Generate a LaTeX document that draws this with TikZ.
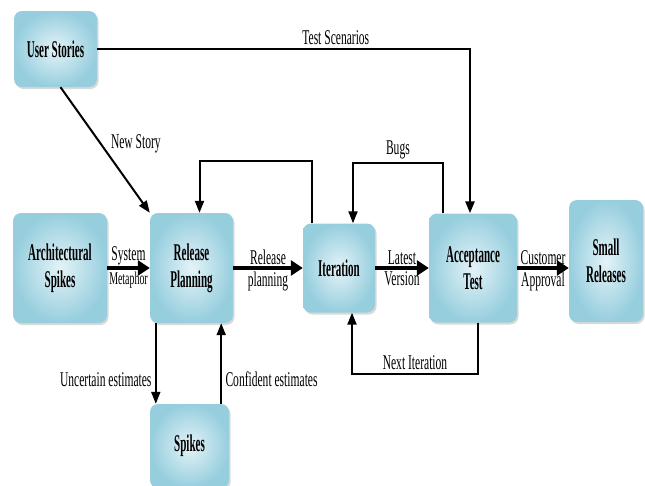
\documentclass[tikz,border=0pt]{standalone}
\usepackage{fontspec}
\setmainfont{Liberation Serif}[FakeStretch=0.55]
\newfontfamily\boxfont{Liberation Serif}[FakeStretch=0.46]
\usetikzlibrary{arrows.meta,shadows}
\definecolor{boxdark}{RGB}{150,206,222}
\definecolor{boxlight}{RGB}{228,243,247}

\begin{document}
\begin{tikzpicture}[x=1pt,y=-1pt,
        font=\fontsize{21}{25}\selectfont,
        box/.style={rounded corners=8pt, inner color=boxlight, outer color=boxdark, align=center,
            font=\boxfont\fontsize{24}{27}\selectfont\bfseries,
            drop shadow={shadow xshift=1.5pt, shadow yshift=-2pt, opacity=0.3}},
        flow/.style={line width=2pt, -{Triangle[length=12pt,width=9pt]}},
        main/.style={line width=4pt, -{Triangle[length=12pt,width=15pt]}}]
        \useasboundingbox (0,0) rectangle (645,485);

        \node[box,minimum width=83pt,minimum height=76pt] (US) at (55.5,49) {User Stories};
        \node[box,minimum width=94pt,minimum height=110pt] (AS) at (60,268) {Architectural\\Spikes};
        \node[box,minimum width=83pt,minimum height=110pt] (RP) at (191.5,268) {Release\\Planning};
        \node[box,minimum width=72pt,minimum height=89pt] (IT) at (339,268) {Iteration};
        \node[box,minimum width=88pt,minimum height=109pt] (AT) at (473,268) {Acceptance\\Test};
        \node[box,minimum width=74pt,minimum height=122pt] (SR) at (606,261) {Small\\Releases};
        \node[box,minimum width=79pt,minimum height=84pt] (SP) at (189.5,446) {Spikes};

        \draw[flow, line width=2.6pt] (US.east) -| ([xshift=-3pt]AT.north) node[pos=0.32, above]{Test Scenarios};
        \draw[flow] ([xshift=5pt]US.south) -- (RP.north west) node[pos=0.45, right=6pt]{New Story};

        \draw[main] (AS) -- (RP) node[midway, above, inner sep=1pt]{System}
            node[midway, below, inner sep=2pt, font=\fontsize{18}{20}\selectfont]{Metaphor};
        \draw[main] (RP) -- (IT) node[midway, above, inner sep=1pt]{Release} node[midway, below, inner sep=2pt]{planning};
        \draw[main] (IT) -- (AT) node[midway, above, inner sep=1pt]{Latest} node[midway, below, inner sep=2pt]{Version};
        \draw[main] (AT.east) -- (AT.east -| SR.west) node[midway, above, inner sep=1pt]{Customer}
            node[midway, below, inner sep=2pt]{Approval};

        \draw[flow] ([xshift=9pt]IT.north west) -- ++(0,-62) -| ([xshift=8pt]RP.north);
        \draw[flow] ([xshift=14pt]AT.north west) -- ++(0,-50) -| ([xshift=14pt]IT.north) node[pos=0.25, above]{Bugs};
        \draw[flow] ([xshift=5pt]AT.south) -- ++(0,51) -| ([xshift=13pt]IT.south) node[pos=0.25, above]{Next Iteration};

        \draw[flow] ([xshift=6pt]RP.south west) -- ([xshift=6pt]RP.south west |- SP.north) node[pos=0.7, left]{Uncertain estimates};
        \draw[flow] ([xshift=-8pt]SP.north east) -- ([xshift=-8pt]SP.north east |- RP.south) node[pos=0.3, right]{Confident estimates};
    \end{tikzpicture}
\end{document}
